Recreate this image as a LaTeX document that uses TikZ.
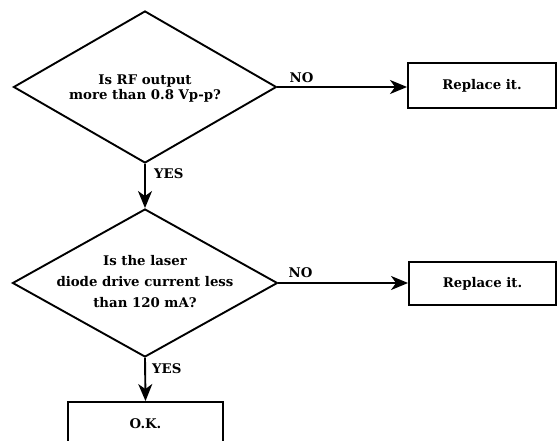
\documentclass[tikz,border=0pt]{standalone}
\usepackage{fontspec}
\setmainfont{DejaVu Serif}
\usetikzlibrary{shapes.geometric,arrows.meta,calc}
\begin{document}
\begin{tikzpicture}[x=1pt,y=-1pt,
  every node/.style={font=\fontsize{13.3}{15}\selectfont\bfseries},
  ln/.style={line width=1.9pt},
  arr/.style={ln,-{Stealth[length=17pt,width=14pt,inset=5pt]}},
  dia/.style={draw,ln,shape=diamond,inner sep=0pt},
  boxx/.style={draw,ln,rectangle,inner sep=0pt},
  lbl/.style={inner sep=0pt}]
\useasboundingbox (0,0) rectangle (558,441);
% decision 1
\node[dia,minimum width=263pt,minimum height=152pt] (d1) at (145,87) {};
\node[align=center,inner sep=0pt,font=\fontsize{13.3}{15}\selectfont\bfseries] (d1t) at (145,89) {Is RF output\\more than 0.8 Vp-p?};
% decision 2
\node[dia,minimum width=265pt,minimum height=148pt] (d2) at (145,283) {};
\node[align=center,inner sep=0pt,font=\fontsize{13.3}{21}\selectfont\bfseries] (d2t) at (145,282) {Is the laser\\diode drive current less\\than 120 mA?};
% boxes
\node[boxx,minimum width=148pt,minimum height=45pt] (r1) at (482,85.5) {Replace it.};
\node[boxx,minimum width=147pt,minimum height=43pt] (r2) at (482.5,283.5) {Replace it.};
\node[boxx,minimum width=155pt,minimum height=44pt] (ok) at (145.5,424) {O.K.};
% connectors
\draw[arr] (d1.east) -- (d1.east -| r1.west);
\draw[arr] (d2.east) -- (d2.east -| r2.west);
\draw[arr] (d1.south) -- (d2.north);
\draw[arr] (d2.south) -- (ok.north);
% labels
\node[lbl,anchor=south west] (no1) at ($(d1.east)+(12,-4)$) {NO};
\node[lbl,anchor=south west] (no2) at ($(d2.east)+(10,-5)$) {NO};
\node[lbl,anchor=west] (yes1) at ($(d1.south)+(9,10)$) {YES};
\node[lbl,anchor=west] (yes2) at ($(d2.south)+(7,11)$) {YES};
\end{tikzpicture}
\end{document}
